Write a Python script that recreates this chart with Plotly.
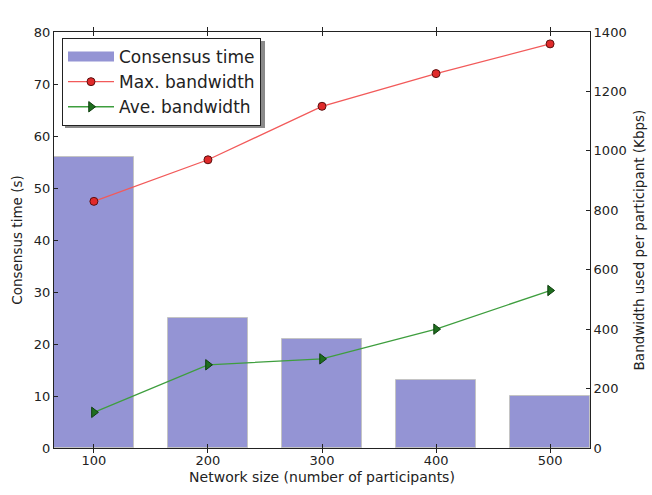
import plotly.graph_objects as go

network_size = [100, 200, 300, 400, 500]
consensus_time = [56, 25, 21, 13, 10]
max_bandwidth = [830, 970, 1150, 1260, 1360]
ave_bandwidth = [120, 280, 300, 400, 530]

left_ticks = [0, 10, 20, 30, 40, 50, 60, 70, 80]
right_ticks = [0, 200, 400, 600, 800, 1000, 1200, 1400]

FONT = "DejaVu Sans"
BAR_COLOR = "#9494d4"

fig = go.Figure()
# legend-only entry for the bars (wide rectangle patch)
fig.add_trace(go.Scatter(
    x=[None], y=[None], name="Consensus time", mode="lines",
    line=dict(color=BAR_COLOR, width=11), yaxis="y",
))
fig.add_trace(go.Bar(
    x=network_size, y=consensus_time, width=70, name="Consensus time",
    marker=dict(color=BAR_COLOR, line=dict(color="#c4c4c4", width=1)),
    yaxis="y", showlegend=False,
))
fig.add_trace(go.Scatter(
    x=network_size, y=max_bandwidth, name="Max. bandwidth", mode="lines+markers",
    line=dict(color="#f25a5a", width=1.3),
    marker=dict(symbol="circle", size=8, color="#e02a2a", line=dict(color="#5a1010", width=1)),
    yaxis="y2",
))
fig.add_trace(go.Scatter(
    x=network_size, y=ave_bandwidth, name="Ave. bandwidth", mode="lines+markers",
    line=dict(color="#3e9e3e", width=1.3),
    marker=dict(symbol="triangle-right", size=9, color="#1e6e1e", line=dict(color="#0e3e0e", width=1)),
    yaxis="y2",
))

axis_common = dict(
    showgrid=False, zeroline=False, showline=True, linecolor="#222222", linewidth=1,
    ticks="inside", ticklen=4, tickcolor="#222222", automargin=False,
    tickfont=dict(family=FONT, size=13, color="#222222"),
)

fig.update_layout(
    width=652, height=495,
    margin=dict(l=54, r=62, t=32, b=47),
    paper_bgcolor="white", plot_bgcolor="white",
    font=dict(family=FONT, color="#222222"),
    bargap=0,
    xaxis=dict(
        range=[65, 535], tickvals=network_size, mirror="allticks",
        title=dict(text="Network size (number of participants)", font=dict(family=FONT, size=14), standoff=5),
        **axis_common,
    ),
    yaxis=dict(
        range=[0, 80], tickvals=left_ticks, mirror=True,
        title=dict(text="Consensus time (s)", font=dict(family=FONT, size=13.5), standoff=8),
        **axis_common,
    ),
    yaxis2=dict(
        range=[0, 1400], tickvals=right_ticks, overlaying="y", side="right",
        title=dict(text="Bandwidth used per participant (Kbps)", font=dict(family=FONT, size=13.5), standoff=8),
        **axis_common,
    ),
    legend=dict(
        x=(62 - 54) / 536, y=(448 - 38) / 416, xanchor="left", yanchor="top",
        bgcolor="white", bordercolor="#222222", borderwidth=1,
        font=dict(family=FONT, size=17, color="#222222"),
        itemwidth=46, tracegroupgap=0,
    ),
    showlegend=True,
)

# legend drop shadow
fig.add_shape(type="rect", xref="paper", yref="paper",
              x0=(65 - 54) / 536, x1=(265 - 54) / 536,
              y0=(448 - 128) / 416, y1=(448 - 41) / 416,
              fillcolor="#8a8a8a", line=dict(width=0), layer="above")

fig.write_html("out.html")
